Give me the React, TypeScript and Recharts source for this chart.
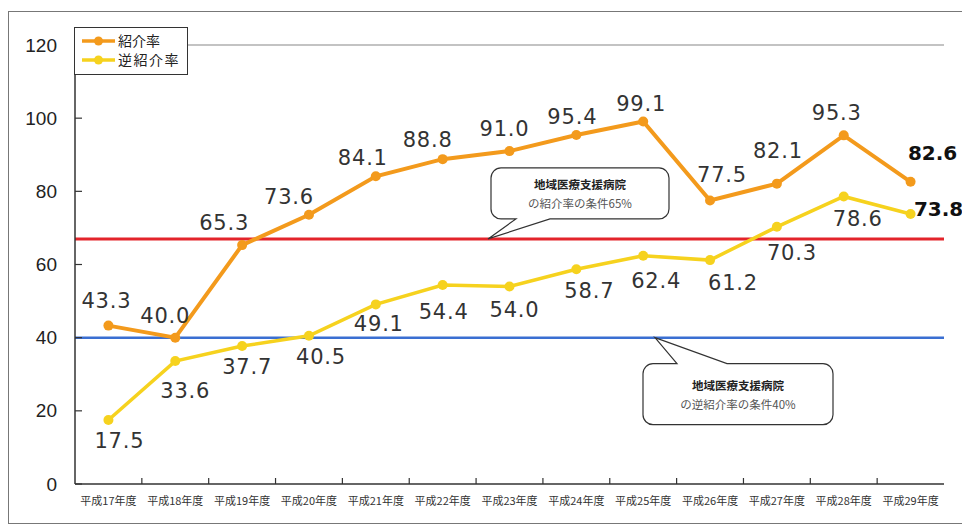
import { LineChart, Line, XAxis, YAxis, ReferenceLine, LabelList, Legend } from 'recharts';

const years = [
  '平成17年度', '平成18年度', '平成19年度', '平成20年度', '平成21年度', '平成22年度', '平成23年度',
  '平成24年度', '平成25年度', '平成26年度', '平成27年度', '平成28年度', '平成29年度',
];
const referralRate = [43.3, 40.0, 65.3, 73.6, 84.1, 88.8, 91.0, 95.4, 99.1, 77.5, 82.1, 95.3, 82.6];
const reverseReferralRate = [17.5, 33.6, 37.7, 40.5, 49.1, 54.4, 54.0, 58.7, 62.4, 61.2, 70.3, 78.6, 73.8];
const yTicks = [0, 20, 40, 60, 80, 100, 120];
// where the requirement lines sit in the picture
const referralRequirement = 67;
const reverseRequirement = 40;

const data = years.map((year, i) => ({
  year,
  referral: referralRate[i],
  reverse: reverseReferralRate[i],
}));

// label placement relative to each point (dx, dy)
const referralLabelOffsets = [
  [-2, -25], [-10, -22], [-18, -22], [-20, -18], [-13, -18], [-15, -19], [-5, -22],
  [-4, -18], [-2, -17], [12, -25], [1, -33], [-7, -22], [22, -29],
];
const reverseLabelOffsets = [
  [11, 21], [10, 30], [5, 21], [12, 21], [3, 20], [1, 27], [5, 24],
  [13, 22], [13, 25], [23, 23], [15, 26], [14, 23], [28, -5],
];

const ORANGE = '#f39a1c';
const YELLOW = '#f6d21e';
const CHART_W = 958;
const CHART_H = 513;
const MARGIN = { top: 34, right: 22, bottom: 10, left: 7 };
const Y_W = 60;
const BAND = (CHART_W - MARGIN.left - MARGIN.right - Y_W) / years.length;

const numFont = '"DejaVu Sans", Verdana, sans-serif';
const jpFont = '"Noto Sans CJK JP", sans-serif';

function makeLabel(offsets: number[][]) {
  return (props: any) => {
    const { x, y, value, index } = props;
    const [dx, dy] = offsets[index] || [0, -20];
    const last = index === years.length - 1;
    return (
      <text
        x={x + dx}
        y={y + dy}
        textAnchor="middle"
        dominantBaseline="central"
        fontFamily={numFont}
        fontSize={last ? 20 : 21}
        letterSpacing={last ? 0 : 0.8}
        fontWeight={last ? 'bold' : 'normal'}
        fill={last ? '#111' : '#333'}
      >
        {Number(value).toFixed(1)}
      </text>
    );
  };
}

function YearTick(props: any) {
  const { x, y, payload, index } = props;
  return (
    <g>
      {index < years.length - 1 && (
        <line x1={x + BAND / 2} x2={x + BAND / 2} y1={y} y2={y - 6} stroke="#333" strokeWidth={1.2} />
      )}
      <text x={x} y={y + 16} textAnchor="middle" dominantBaseline="central" fontFamily={jpFont} fontSize={11} fill="#333">
        {payload.value}
      </text>
    </g>
  );
}

function ValueTick(props: any) {
  const { x, y, payload } = props;
  return (
    <g>
      <line x1={x + 18} x2={x + 25} y1={y} y2={y} stroke="#333" strokeWidth={1.2} />
      <text x={x} y={y} textAnchor="end" dominantBaseline="central" fontFamily='"Liberation Sans", Arial, sans-serif' fontSize={19} fill="#222">
        {payload.value}
      </text>
    </g>
  );
}

function Callout(props: any) {
  const { viewBox, tipDx, box, base, notch, lines } = props;
  if (!viewBox) return null;
  const tx = viewBox.x + tipDx;
  const ty = viewBox.y;
  const l = tx + box[0];
  const r = tx + box[1];
  const t = ty + box[2];
  const b = ty + box[3];
  const b1 = tx + base[0];
  const b2 = tx + base[1];
  const R = 10;
  let d: string;
  if (notch === 'bottom') {
    d = `M ${l + R} ${t} H ${r - R} A ${R} ${R} 0 0 1 ${r} ${t + R} V ${b - R} A ${R} ${R} 0 0 1 ${r - R} ${b} H ${b2} L ${tx} ${ty} L ${b1} ${b} H ${l + R} A ${R} ${R} 0 0 1 ${l} ${b - R} V ${t + R} A ${R} ${R} 0 0 1 ${l + R} ${t} Z`;
  } else {
    d = `M ${l + R} ${t} H ${b1} L ${tx} ${ty} L ${b2} ${t} H ${r - R} A ${R} ${R} 0 0 1 ${r} ${t + R} V ${b - R} A ${R} ${R} 0 0 1 ${r - R} ${b} H ${l + R} A ${R} ${R} 0 0 1 ${l} ${b - R} V ${t + R} A ${R} ${R} 0 0 1 ${l + R} ${t} Z`;
  }
  const cx = (l + r) / 2;
  const cy = (t + b) / 2;
  return (
    <g>
      <path d={d} fill="#fff" stroke="#333" strokeWidth={1.2} />
      <text x={cx} y={cy - 9} textAnchor="middle" dominantBaseline="central" fontFamily={jpFont} fontSize={11.5} fontWeight="bold" fill="#222">
        {lines[0]}
      </text>
      <text x={cx} y={cy + 10} textAnchor="middle" dominantBaseline="central" fontFamily={jpFont} fontSize={11.5} fill="#555">
        {lines[1]}
      </text>
    </g>
  );
}

function LegendBox(props: any) {
  const items = props.payload || [];
  return (
    <div
      style={{
        width: 114,
        height: 48,
        boxSizing: 'border-box',
        border: '1px solid #333',
        background: '#fff',
        padding: '3px 0 0 6px',
        fontFamily: jpFont,
        fontSize: 14,
        lineHeight: '19px',
        color: '#222',
        textAlign: 'left',
      }}
    >
      {items.map((item: any) => (
        <div key={item.value} style={{ display: 'flex', alignItems: 'center', height: 19 }}>
          <svg width={36} height={12} style={{ marginRight: 1 }}>
            <line x1={1} x2={34} y1={6} y2={6} stroke={item.color} strokeWidth={3.5} />
            <circle cx={17.5} cy={6} r={4.5} fill={item.color} />
          </svg>
          <span style={{ letterSpacing: item.value.length > 3 ? 1.5 : 0 }}>{item.value}</span>
        </div>
      ))}
    </div>
  );
}

export default function App() {
  return (
    <div style={{ position: 'relative', width: CHART_W, height: CHART_H, marginTop: 3 }}>
      <div
        style={{
          position: 'absolute',
          left: 0,
          top: 0,
          width: CHART_W,
          height: CHART_H,
          border: '1.5px solid #777',
          boxSizing: 'border-box',
          pointerEvents: 'none',
        }}
      />
      <LineChart width={CHART_W} height={CHART_H} data={data} margin={MARGIN}>
        <XAxis
          dataKey="year"
          scale="band"
          interval={0}
          tickLine={false}
          tickSize={0}
          tickMargin={0}
          height={30}
          axisLine={{ stroke: '#333', strokeWidth: 1.5 }}
          tick={<YearTick />}
        />
        <YAxis
          yAxisId="left"
          domain={[0, 120]}
          ticks={yTicks}
          width={Y_W}
          tickLine={false}
          tickSize={0}
          tickMargin={18}
          axisLine={{ stroke: '#333', strokeWidth: 1.5 }}
          tick={<ValueTick />}
        />
        <YAxis
          yAxisId="right"
          orientation="right"
          domain={[0, 120]}
          width={0}
          tick={false}
          tickLine={false}
          axisLine={{ stroke: '#888', strokeWidth: 1.2 }}
        />
        <ReferenceLine yAxisId="left" y={120} stroke="#888" strokeWidth={1.2} />
        <ReferenceLine
          yAxisId="left"
          y={referralRequirement}
          stroke="#e3242b"
          strokeWidth={3}
          label={
            <Callout
              tipDx={413}
              box={[3, 181, -71, -20]}
              base={[28, 62]}
              notch="bottom"
              lines={['地域医療支援病院', 'の紹介率の条件65%']}
            />
          }
        />
        <ReferenceLine
          yAxisId="left"
          y={reverseRequirement}
          stroke="#3a6fd2"
          strokeWidth={2.5}
          label={
            <Callout
              tipDx={580}
              box={[-12, 178, 26, 87]}
              base={[22, 72]}
              notch="top"
              lines={['地域医療支援病院', 'の逆紹介率の条件40%']}
            />
          }
        />
        <Legend
          layout="horizontal"
          verticalAlign="middle"
          align="center"
          content={<LegendBox />}
          wrapperStyle={{ position: 'absolute', left: 66, top: 16, width: 114, height: 48 }}
        />
        <Line
          yAxisId="left"
          type="linear"
          dataKey="referral"
          name="紹介率"
          stroke={ORANGE}
          strokeWidth={4}
          dot={{ r: 5, fill: ORANGE, stroke: ORANGE, strokeWidth: 0 }}
          activeDot={false}
          isAnimationActive={false}
        >
          <LabelList dataKey="referral" content={makeLabel(referralLabelOffsets)} />
        </Line>
        <Line
          yAxisId="left"
          type="linear"
          dataKey="reverse"
          name="逆紹介率"
          stroke={YELLOW}
          strokeWidth={3.5}
          dot={{ r: 5, fill: YELLOW, stroke: YELLOW, strokeWidth: 0 }}
          activeDot={false}
          isAnimationActive={false}
        >
          <LabelList dataKey="reverse" content={makeLabel(reverseLabelOffsets)} />
        </Line>
      </LineChart>
    </div>
  );
}
